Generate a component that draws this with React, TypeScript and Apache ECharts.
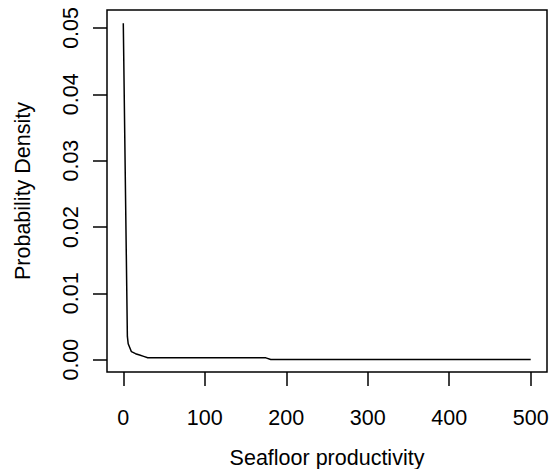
import React, { useEffect, useRef } from "react";
import * as echarts from "echarts";

const xValues = [0, 5, 6, 10, 15, 20, 25, 30, 100, 175, 181, 300, 500];
const densityValues = [0.0507, 0.0035, 0.0024, 0.0012, 0.0009, 0.0007, 0.0005, 0.0003, 0.00028, 0.00027, 0.00003, 0.00003, 0.00003];
const xTicks = [0, 100, 200, 300, 400, 500];
const yTicks = [0, 0.01, 0.02, 0.03, 0.04, 0.05];
const xTitle = "Seafloor productivity";
const yTitle = "Probability Density";

export default function App() {
  const ref = useRef<HTMLDivElement>(null);
  useEffect(() => {
    document.body.style.margin = "0";
    const chart = echarts.init(ref.current!, null, { renderer: "svg" });
    const font = "'Liberation Sans', Arial, sans-serif";
    chart.setOption({
      animation: false,
      backgroundColor: "#ffffff",
      grid: {
        left: 107,
        top: 10,
        right: 6,
        bottom: 97,
        containLabel: false,
        outerBoundsMode: "none",
        show: true,
        borderColor: "#000",
        borderWidth: 1.5,
        backgroundColor: "transparent",
      },
      xAxis: {
        type: "value",
        min: -20,
        max: 520,
        axisLine: { show: false, onZero: false },
        splitLine: { show: false },
        axisTick: {
          show: true,
          customValues: xTicks,
          length: 14,
          inside: false,
          lineStyle: { color: "#000", width: 1.5 },
        },
        axisLabel: {
          customValues: xTicks,
          margin: 35,
          color: "#000",
          fontSize: 21.5,
          fontFamily: font,
        },
        name: xTitle,
        nameLocation: "middle",
        nameGap: 75,
        nameTextStyle: { color: "#000", fontSize: 21.5, fontFamily: font },
      },
      yAxis: {
        type: "value",
        min: -0.00186,
        max: 0.0527,
        axisLine: { show: false, onZero: false },
        splitLine: { show: false },
        axisTick: {
          show: true,
          customValues: yTicks,
          length: 14,
          inside: false,
          lineStyle: { color: "#000", width: 1.5 },
        },
        axisLabel: {
          customValues: yTicks,
          rotate: 90,
          margin: 25,
          color: "#000",
          fontSize: 21.5,
          fontFamily: font,
          formatter: (v: number) => v.toFixed(2),
        },
        name: yTitle,
        nameLocation: "middle",
        nameRotate: 90,
        nameGap: 73,
        nameTextStyle: { color: "#000", fontSize: 21.5, fontFamily: font },
      },
      series: [
        {
          type: "line",
          data: xValues.map((x, i) => [x, densityValues[i]]),
          symbol: "none",
          smooth: false,
          lineStyle: { color: "#000", width: 1.5 },
        },
      ],
    });
    return () => chart.dispose();
  }, []);
  return (
    <div
      ref={ref}
      style={{ position: "absolute", left: 0, top: 0, width: 553, height: 469 }}
    />
  );
}
